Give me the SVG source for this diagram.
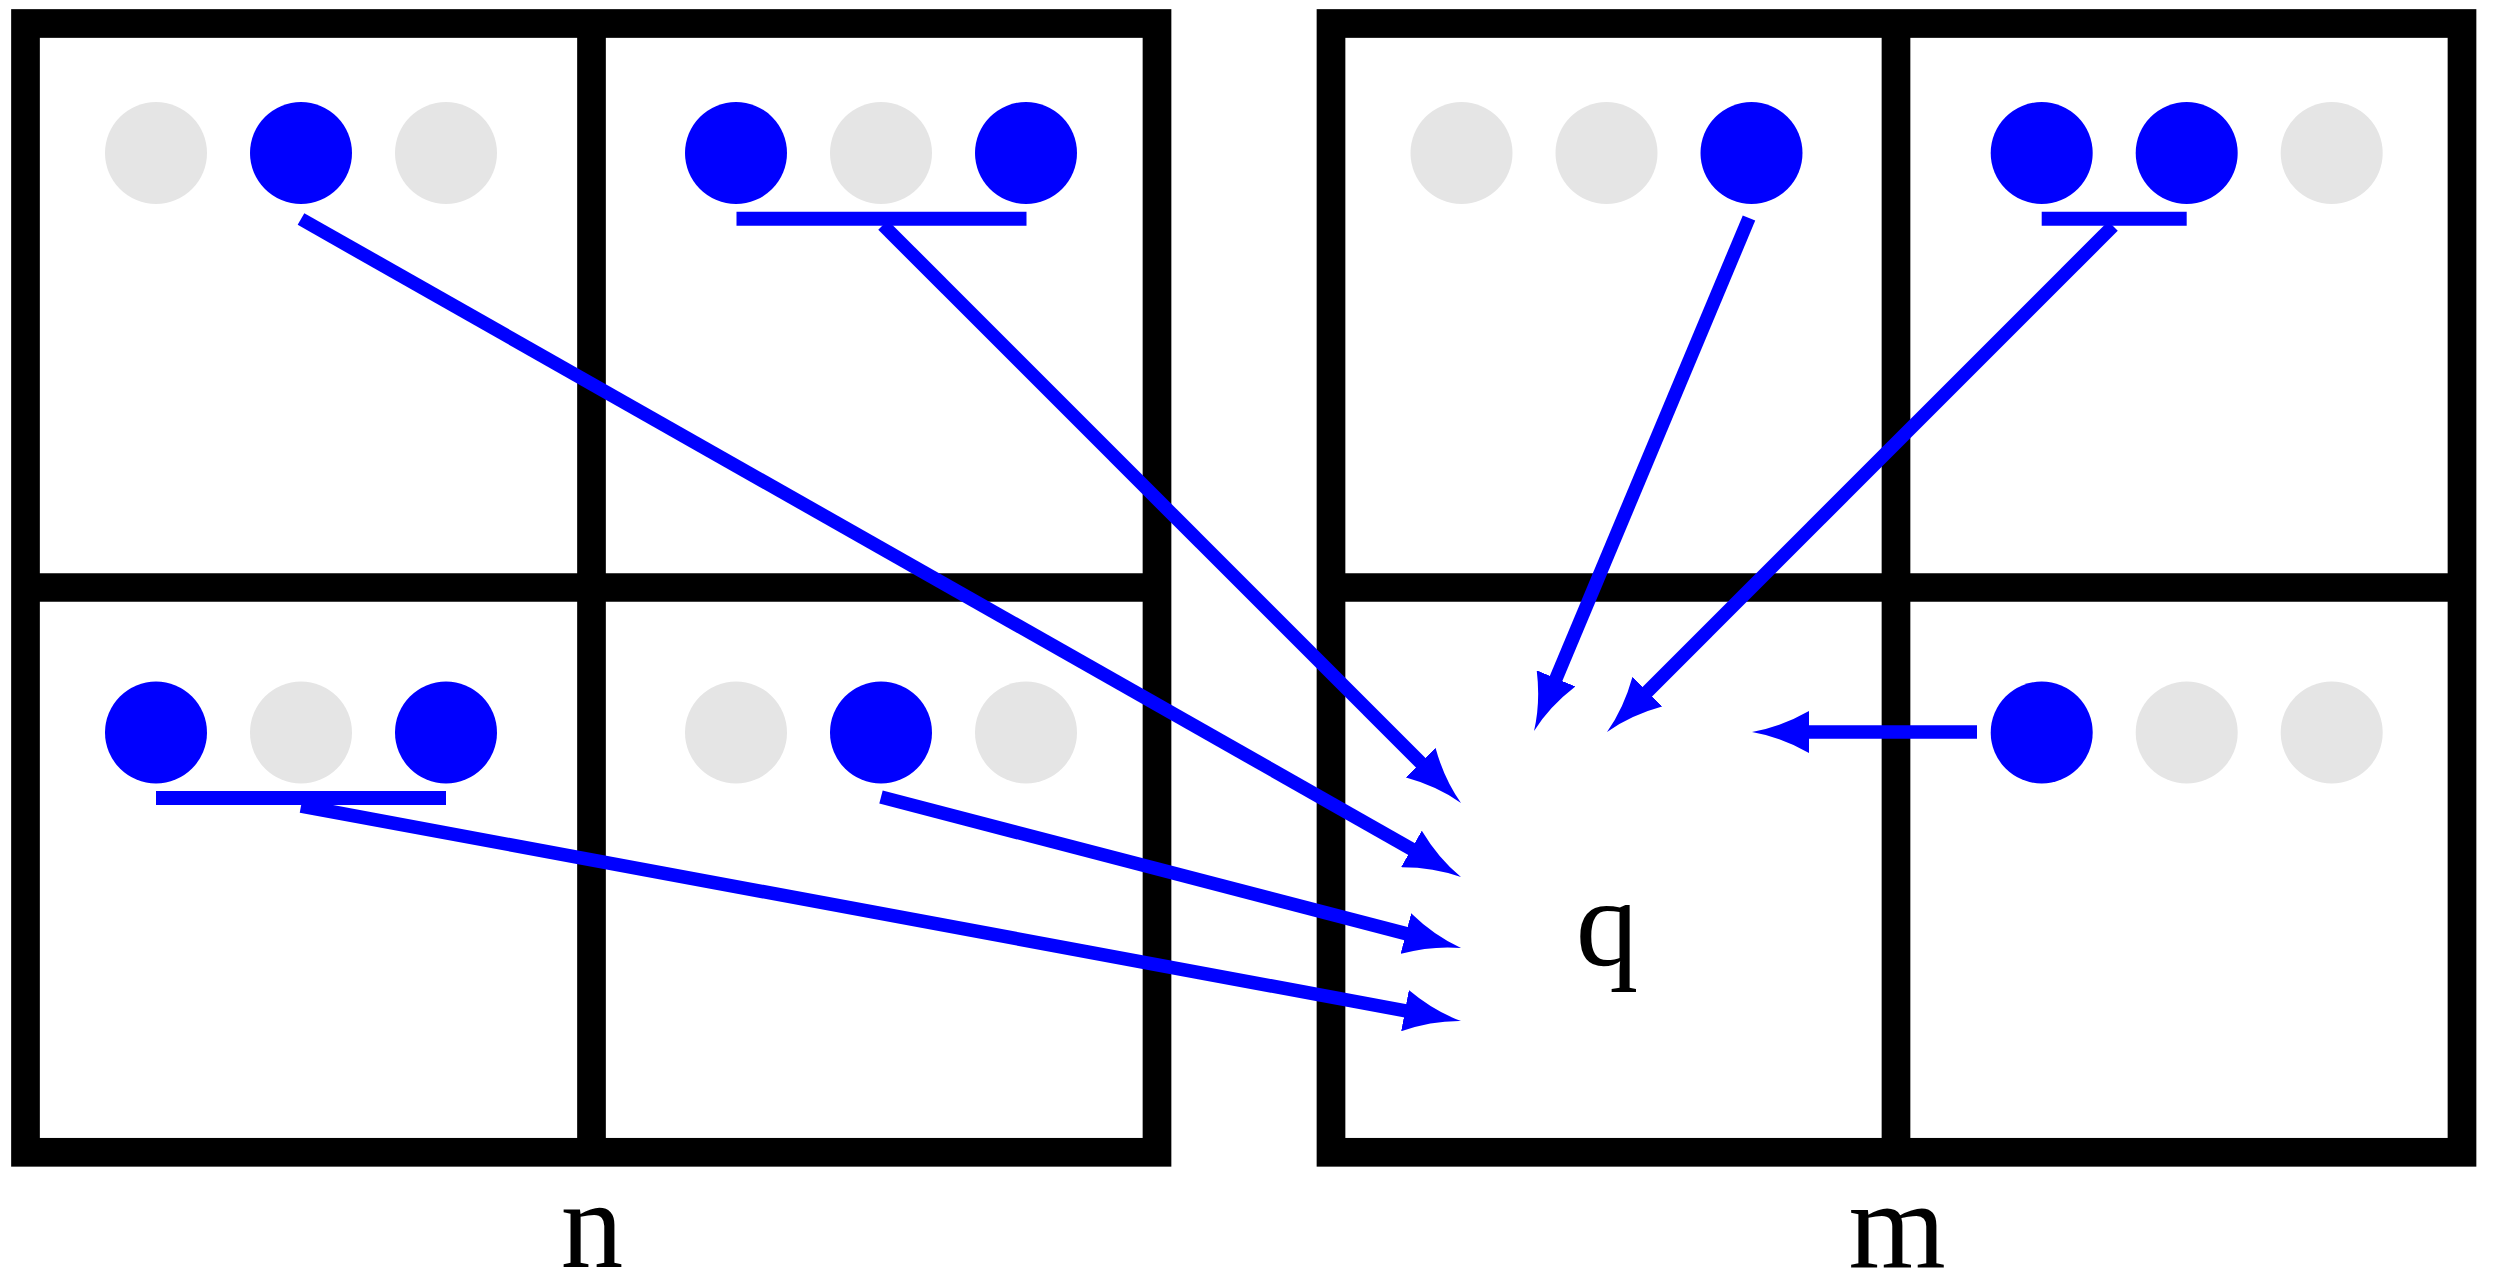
<svg xmlns="http://www.w3.org/2000/svg" width="2493" height="1273" viewBox="0 0 2493 1273">
  <style>
    .frame { fill: none; stroke: #000; stroke-width: 28.7; stroke-linejoin: miter; }
    .grid { stroke: #000; stroke-width: 28.7; }
    .on { fill: #0000ff; }
    .off { fill: #e5e5e5; }
    .bar { stroke: #0000ff; stroke-width: 14; }
    .conn { stroke: #0000ff; stroke-width: 13.5; fill: none; marker-end: url(#head); }
    .lbl { font-family: "Liberation Serif", "DejaVu Serif", serif; font-size: 125px; fill: #000; text-anchor: middle; }
  </style>
  <defs>
    <marker id="head" markerUnits="userSpaceOnUse" viewBox="0 0 57 42" markerWidth="57" markerHeight="42" refX="17" refY="21" orient="auto">
      <path d="M57,21 Q28,16 0,0 L0,42 Q28,26 57,21 Z" fill="#0000ff"/>
    </marker>
  </defs>
  <rect width="2493" height="1273" fill="#fff"/>

  <g id="frame-n">
    <rect class="frame" x="25.5" y="23.5" width="1131.5" height="1128.8"/>
    <line class="grid" x1="591.5" y1="23.5" x2="591.5" y2="1152.3"/>
    <line class="grid" x1="25.5" y1="587.5" x2="1157" y2="587.5"/>
  </g>
  <g id="frame-m">
    <rect class="frame" x="1331" y="23.5" width="1131" height="1128.8"/>
    <line class="grid" x1="1896" y1="23.5" x2="1896" y2="1152.3"/>
    <line class="grid" x1="1331" y1="587.5" x2="2462" y2="587.5"/>
  </g>

  <g id="cell-n-tl">
    <circle class="off" cx="156" cy="153" r="51"/>
    <circle class="on" cx="301" cy="153" r="51"/>
    <circle class="off" cx="446" cy="153" r="51"/>
  </g>
  <g id="cell-n-tr">
    <circle class="on" cx="736" cy="153" r="51"/>
    <circle class="off" cx="881" cy="153" r="51"/>
    <circle class="on" cx="1026" cy="153" r="51"/>
    <line class="bar" x1="736.5" y1="218.7" x2="1026.5" y2="218.7"/>
  </g>
  <g id="cell-n-bl">
    <circle class="on" cx="156" cy="732.5" r="51"/>
    <circle class="off" cx="301" cy="732.5" r="51"/>
    <circle class="on" cx="446" cy="732.5" r="51"/>
    <line class="bar" x1="156" y1="798" x2="446" y2="798"/>
  </g>
  <g id="cell-n-br">
    <circle class="off" cx="736" cy="732.5" r="51"/>
    <circle class="on" cx="881" cy="732.5" r="51"/>
    <circle class="off" cx="1026" cy="732.5" r="51"/>
  </g>

  <g id="cell-m-tl">
    <circle class="off" cx="1461.5" cy="153" r="51"/>
    <circle class="off" cx="1606.5" cy="153" r="51"/>
    <circle class="on" cx="1751.5" cy="153" r="51"/>
  </g>
  <g id="cell-m-tr">
    <circle class="on" cx="2041.7" cy="153" r="51"/>
    <circle class="on" cx="2186.7" cy="153" r="51"/>
    <circle class="off" cx="2331.7" cy="153" r="51"/>
    <line class="bar" x1="2041.7" y1="218.7" x2="2186.7" y2="218.7"/>
  </g>
  <g id="cell-m-br">
    <circle class="on" cx="2041.7" cy="732.5" r="51"/>
    <circle class="off" cx="2186.7" cy="732.5" r="51"/>
    <circle class="off" cx="2331.7" cy="732.5" r="51"/>
  </g>

  <g id="connectors">
    <line class="conn" x1="301" y1="219" x2="1426.2" y2="857.3"/>
    <line class="conn" x1="883" y1="225" x2="1432.7" y2="774.7"/>
    <line class="conn" x1="881" y1="797" x2="1422.3" y2="937.9"/>
    <line class="conn" x1="301" y1="806" x2="1421.7" y2="1013.8"/>
    <line class="conn" x1="1749" y1="218" x2="1549.5" y2="694.1"/>
    <line class="conn" x1="2113" y1="226" x2="1635.3" y2="703.7"/>
    <line class="conn" x1="1977" y1="732" x2="1792" y2="732"/>
  </g>

  <g id="labels">
    <text id="label-q" class="lbl" x="1607" y="965">q</text>
    <text id="label-n" class="lbl" x="592" y="1267">n</text>
    <text id="label-m" class="lbl" x="1897" y="1267">m</text>
  </g>
</svg>
